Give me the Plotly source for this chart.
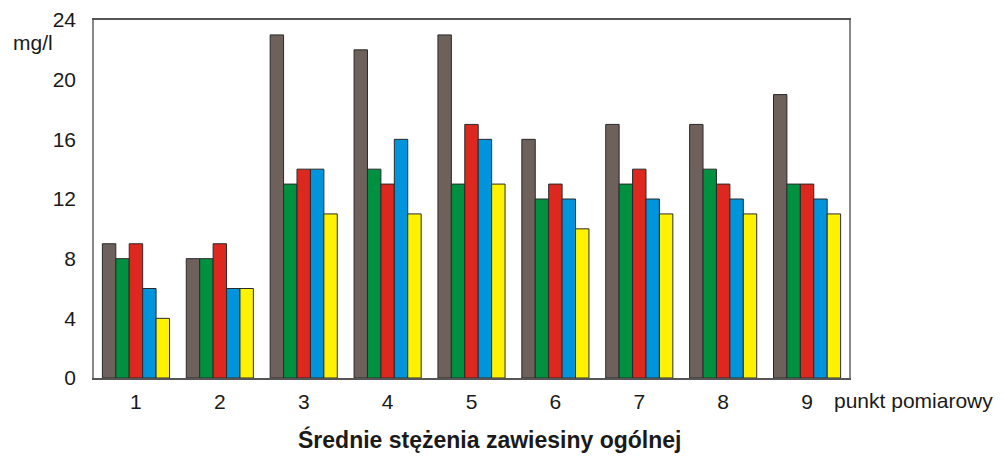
import plotly.graph_objects as go

points = [1, 2, 3, 4, 5, 6, 7, 8, 9]
tick_labels = ["1", "2", "3", "4", "5", "6", "7", "8", "9"]
series_a = [9, 8, 23, 22, 23, 16, 17, 17, 19]
series_b = [8, 8, 13, 14, 13, 12, 13, 14, 13]
series_c = [9, 9, 14, 13, 17, 13, 14, 13, 13]
series_d = [6, 6, 14, 16, 16, 12, 12, 12, 12]
series_e = [4, 6, 11, 11, 13, 10, 11, 11, 11]
colors = ["#6e605b", "#009140", "#dc281e", "#0094dc", "#fff200"]
y_ticks = [0, 4, 8, 12, 16, 20, 24]

fig = go.Figure()
for vals, col in zip([series_a, series_b, series_c, series_d, series_e], colors):
    fig.add_trace(go.Bar(
        x=points, y=vals, marker=dict(color=col, line=dict(color="#2a2a2a", width=1)),
        showlegend=False,
    ))

FONT = "Liberation Sans, Arial, sans-serif"
fig.update_layout(
    width=997, height=452,
    margin=dict(l=86, r=156, t=12, b=82),
    paper_bgcolor="white", plot_bgcolor="white",
    barmode="group", bargap=0.2, bargroupgap=0,
    font=dict(family=FONT, size=21, color="#1a1a1a"),
    xaxis=dict(
        range=[0.5, 9.5], tickmode="array", tickvals=points, ticktext=tick_labels,
        showline=True, linecolor="#555", linewidth=1.5, mirror=True,
        ticks="", showgrid=False, zeroline=False, ticklabelstandoff=4,
        tickfont=dict(size=21, family=FONT), automargin=False,
    ),
    yaxis=dict(
        range=[0, 24], tickmode="array", tickvals=y_ticks,
        showline=True, linecolor="#888", linewidth=1.5, mirror=True,
        ticks="", showgrid=False, zeroline=False, ticklabelstandoff=12,
        tickfont=dict(size=21, family=FONT), automargin=False,
    ),
    annotations=[
        dict(text="mg/l", xref="paper", yref="paper", x=-0.0517, y=0.936,
             xanchor="right", yanchor="middle", showarrow=False,
             font=dict(size=21, family=FONT)),
        dict(text="punkt pomiarowy", xref="paper", yref="paper", x=0.9775, y=-0.0615,
             xanchor="left", yanchor="middle", showarrow=False,
             font=dict(size=21, family=FONT)),
        dict(text="<b>Średnie stężenia zawiesiny ogólnej</b>", xref="paper", yref="paper",
             x=0.5245, y=-0.173, xanchor="center", yanchor="middle", showarrow=False,
             font=dict(size=23, family=FONT)),
    ],
)

fig.write_html("out.html")
